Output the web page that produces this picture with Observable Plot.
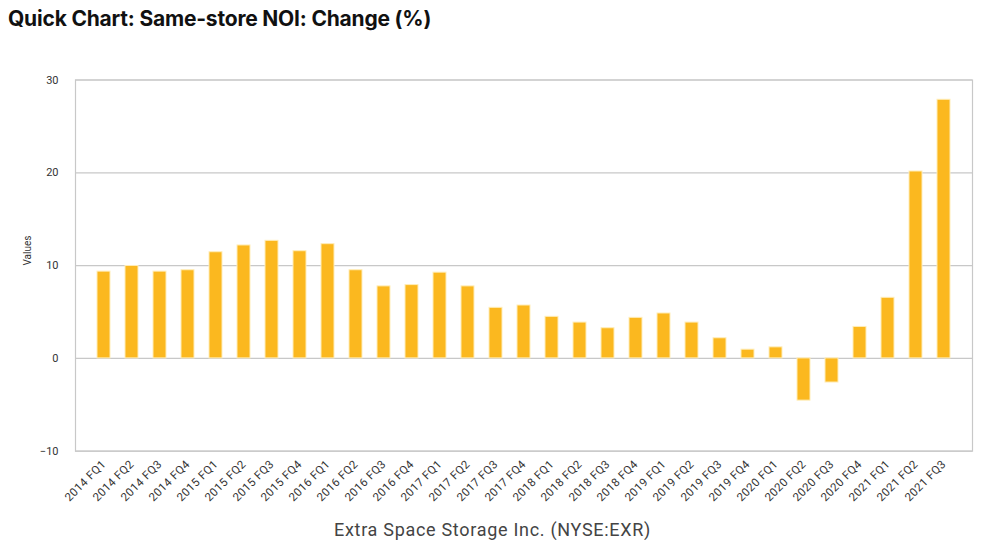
<!DOCTYPE html>
<html>
<head>
<meta charset="utf-8">
<script src="https://cdn.jsdelivr.net/npm/d3@7"></script>
<script src="https://cdn.jsdelivr.net/npm/@observablehq/plot@0.6"></script>
<style>
  html, body { margin: 0; padding: 0; background: #fff; }
  #title { font-family: Inter, "Noto Sans", sans-serif; font-weight: 700; font-size: 21px; color: #111;
           height: 45px; line-height: 22px; padding: 8px 0 0 8px; box-sizing: border-box; letter-spacing: -0.2px; }
  #caption { font-family: Roboto, "Liberation Sans", sans-serif; font-size: 18px; color: #444; letter-spacing: 0.7px;
             text-align: center; width: 985px; margin-top: 4px; }
  svg { display: block; }
  .xax text { letter-spacing: 0.4px; }
</style>
</head>
<body>
<div id="title">Quick Chart: Same-store NOI: Change (%)</div>
<div id="chart"></div>
<div id="caption">Extra Space Storage Inc. (NYSE:EXR)</div>
<script>
const quarters = [
  "2014 FQ1","2014 FQ2","2014 FQ3","2014 FQ4",
  "2015 FQ1","2015 FQ2","2015 FQ3","2015 FQ4",
  "2016 FQ1","2016 FQ2","2016 FQ3","2016 FQ4",
  "2017 FQ1","2017 FQ2","2017 FQ3","2017 FQ4",
  "2018 FQ1","2018 FQ2","2018 FQ3","2018 FQ4",
  "2019 FQ1","2019 FQ2","2019 FQ3","2019 FQ4",
  "2020 FQ1","2020 FQ2","2020 FQ3","2020 FQ4",
  "2021 FQ1","2021 FQ2","2021 FQ3"
];
const noiChange = [
  9.35, 9.96, 9.35, 9.5,
  11.44, 12.17, 12.67, 11.55,
  12.31, 9.5, 7.76, 7.9,
  9.24, 7.76, 5.45, 5.7,
  4.48, 3.86, 3.25, 4.37,
  4.84, 3.86, 2.17, 0.94,
  1.19, -4.55, -2.6, 3.39,
  6.53, 20.14, 27.87
];
const yTicks = [-10, 0, 10, 20, 30];

const data = quarters.map((q, i) => ({quarter: q, value: noiChange[i]}));

const chart = Plot.plot({
  width: 985,
  height: 470,
  marginTop: 34.5,
  marginBottom: 64.3,
  marginLeft: 75,
  marginRight: 13,
  style: {fontFamily: "Roboto, 'Liberation Sans', sans-serif", fontSize: "10px", color: "#333", background: "#fff"},
  x: {domain: quarters, paddingInner: 0.53, paddingOuter: 0.28, label: null},
  y: {domain: [-10, 30], ticks: yTicks, label: null},
  marks: [
    Plot.gridY(yTicks, {stroke: "#c8c8c8", strokeOpacity: 1, strokeWidth: 1.2}),
    Plot.frame({stroke: "#c8c8c8", strokeWidth: 1.2}),
    Plot.barY(data, {x: "quarter", y: "value", fill: "#FBB81F", stroke: "#FFEDB8", strokeWidth: 1}),
    Plot.axisY(yTicks, {tickSize: 0, tickPadding: 17, fontSize: 11, fill: "#333", label: null}),
    Plot.axisX({tickSize: 0, tickPadding: 11, tickRotate: -45, fontSize: 11.5, fill: "#333", label: null, className: "xax"}),
    Plot.text(["Values"], {frameAnchor: "left", dx: -48, rotate: -90, fontSize: 10, fill: "#333"})
  ]
});
document.getElementById("chart").appendChild(chart);
</script>
</body>
</html>
